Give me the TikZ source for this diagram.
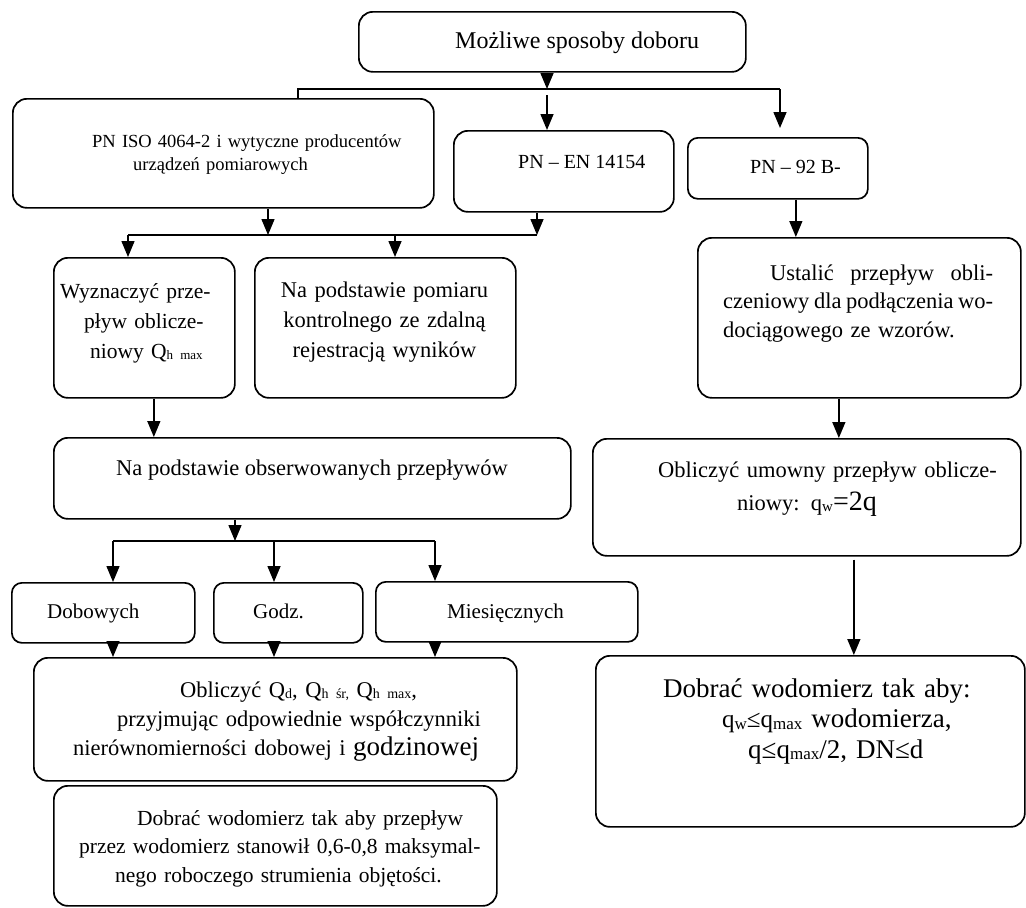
\documentclass[tikz,border=0pt]{standalone}
\usepackage{fontspec}
\setmainfont{Liberation Serif}
\usetikzlibrary{arrows.meta,positioning}
\newcommand{\fsz}[2]{\fontsize{#1}{#2}\selectfont}
\newcommand{\lsub}[2][14]{\raisebox{-1.5pt}{\fsz{#1}{#1}#2}}
\newcommand{\fillline}[2]{\leavevmode\hbox to #1{#2}}

\begin{document}
\begin{tikzpicture}[
    x=1pt, y=-1pt,
    box/.style 2 args={draw, line width=1.7pt, rounded corners=14pt, inner sep=0pt, anchor=north west, minimum width=#1pt, minimum height=#2pt},
    txt/.style={inner sep=0pt, anchor=base west, align=left, font=\fsz{22.5}{29}},
    arr/.style={-{Triangle[width=13pt,length=16pt]}, line width=1.5pt},
    line/.style={line width=1.5pt}
]
\useasboundingbox (0,0) rectangle (1026,908);

\node[box={387}{60}] (sposoby) at (358,11) {};
\node[box={421}{109}] (iso) at (12,98) {};
\node[box={220}{81}] (pnen) at (453,130) {};
\node[box={180}{61}, rounded corners=10pt] (pn92) at (687,137) {};
\node[box={181}{140}] (wyzn) at (53,257) {};
\node[box={261}{140}] (pomiar) at (254,257) {};
\node[box={517}{81}] (obserw) at (53,437) {};
\node[box={183}{60}, rounded corners=10pt] (dobowych) at (11,582) {};
\node[box={149}{60}, rounded corners=10pt] (godz) at (213,582) {};
\node[box={262}{60}, rounded corners=10pt] (miesiecznych) at (375,581) {};
\node[box={483}{123}] (obliczq) at (33,657) {};
\node[box={443}{120}] (dobrac) at (53,785) {};
\node[box={323}{160}] (ustalic) at (697,237) {};
\node[box={428}{117}] (umowny) at (592,438) {};
\node[box={429}{171}] (wodomierz) at (595,655) {};

\node[txt, font=\fsz{24}{28}] (sposoby-t) at (455,48) {Możliwe sposoby doboru};
\node[txt, text width=340pt, font=\fsz{18.5}{23}] (iso-t) at (92,147) {PN ISO 4064-2 i wytyczne producentów\\\hspace*{41pt}urządzeń pomiarowych};
\node[txt, font=\fsz{20}{24}] (pnen-t) at (518,168) {PN – EN 14154};
\node[txt, font=\fsz{20}{24}] (pn92-t) at (750,173) {PN – 92 B-};
\node[txt, text width=180pt, font=\fsz{21.5}{30}] (wyzn-t) at (60,298) {Wyznaczyć prze-\\\hspace*{24pt}pływ oblicze-\\\hspace*{30pt}niowy Q\lsub[13]{h max}};
\node[txt, anchor=base, align=center, text width=261pt, font=\fsz{22.5}{30}] (pomiar-t) at (384.5,297) {Na podstawie pomiaru\\kontrolnego ze zdalną\\rejestracją wyników};
\node[txt] (obserw-t) at (116,475) {Na podstawie obserwowanych przepływów};
\node[txt, font=\fsz{21}{24}] (dobowych-t) at (47,618) {Dobowych};
\node[txt, font=\fsz{21}{24}] (godz-t) at (253,618) {Godz.};
\node[txt, font=\fsz{21}{24}] (miesiecznych-t) at (447,618) {Miesięcznych};
\node[txt, text width=460pt] (obliczq-t) at (73,697) {\hspace*{107pt}Obliczyć Q\lsub{d}, Q\lsub{h śr,} Q\lsub{h max},\\\hspace*{44pt}przyjmując odpowiednie współczynniki\\nierównomierności dobowej i {\fsz{27}{29}godzinowej}};
\node[txt, text width=430pt, font=\fsz{21.5}{28.5}] (dobrac-t) at (79,825) {\hspace*{58pt}Dobrać wodomierz tak aby przepływ\\przez wodomierz stanowił 0,6-0,8 maksymal-\\\hspace*{36pt}nego roboczego strumienia objętości.};
\node[txt, text width=290pt, font=\fsz{22.5}{28.5}] (ustalic-t) at (723,280) {\hspace*{47pt}\fillline{223pt}{Ustalić\hfill przepływ\hfill obli-}\\\fillline{270pt}{czeniowy\hfill dla\hfill podłączenia\hfill wo-}\\dociągowego ze wzorów.};
\node[txt, text width=360pt, font=\fsz{22.5}{33}] (umowny-t) at (658,477) {Obliczyć umowny przepływ oblicze-\\\hspace*{79pt}niowy: q\lsub[15]{w}{\fsz{28}{33}=2q}};
\node[txt, text width=380pt, font=\fsz{27}{30.5}] (wodomierz-t) at (663,697) {Dobrać wodomierz tak aby:\\\hspace*{59pt}{\fsz{25}{30.5}q\lsub[17]{w}≤q\lsub[17]{max}} wodomierza,\\\hspace*{85pt}q≤q\lsub[17]{max}/2, DN≤d};

\coordinate (top) at (547,89);
\coordinate (topL) at (298,89);
\coordinate (topR) at (780,89);
\draw[arr] (sposoby.south -| top) -- (top);
\draw[line] (iso.north -| topL) -- (topL) -- (topR);
\draw[arr, shorten >=9pt] (topR) -- (pn92.north -| topR);
\draw[arr] ([yshift=-6pt]top) -- (pnen.north -| top);

\coordinate (midL) at (128,235);
\coordinate (midA) at (268,235);
\coordinate (midB) at (395,235);
\coordinate (midR) at (537,235);
\draw[arr] (iso.south -| midA) -- (midA);
\draw[arr] (pnen.south -| midR) -- (midR);
\draw[line] (midR) -- (midL);
\draw[arr] (midL) -- (wyzn.north -| midL);
\draw[arr] (midB) -- (pomiar.north -| midB);
\draw[arr] ([xshift=9.5pt]wyzn.south) -- ([xshift=9.5pt]wyzn.south |- obserw.north);

\coordinate (lowC) at (235,541);
\coordinate (lowL) at (113,541);
\coordinate (lowM) at (274,541);
\coordinate (lowR) at (435,541);
\draw[arr] (obserw.south -| lowC) -- (lowC);
\draw[line] (lowL) -- (lowR);
\foreach \b/\t in {lowL/dobowych, lowM/godz, lowR/miesiecznych} {
    \draw[arr] (\b) -- (\t.north -| \b);
    \draw[arr] (\t.south -| \b) -- (obliczq.north -| \b);
}

\draw[arr] ([xshift=18pt]pn92.south) -- ([xshift=18pt]pn92.south |- ustalic.north);
\draw[arr] ([xshift=-20.5pt]ustalic.south) -- ([xshift=-20.5pt]ustalic.south |- umowny.north);
\draw[arr] ([xshift=47pt, yshift=-3pt]umowny.south) -- ([xshift=47pt]umowny.south |- wodomierz.north);
\end{tikzpicture}
\end{document}
